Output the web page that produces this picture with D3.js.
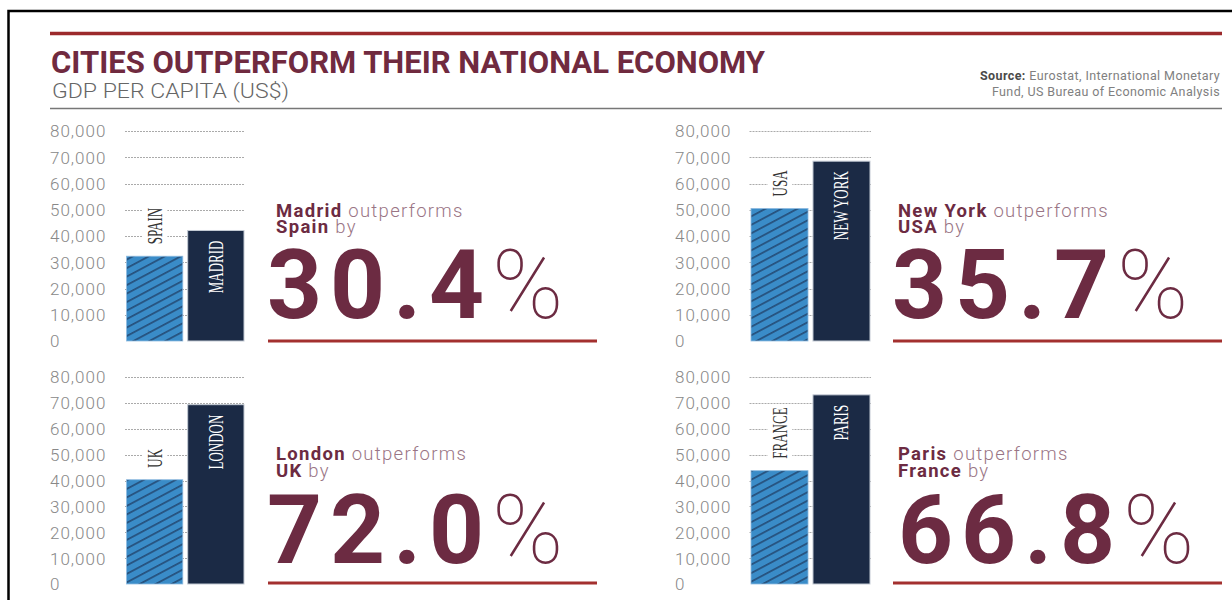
<!DOCTYPE html>
<html>
<head>
<meta charset="utf-8">
<script src="https://cdn.jsdelivr.net/npm/d3@7"></script>
<style>
  body { margin: 0; background: #fff; }
  svg { display: block; font-family: Roboto, "Liberation Sans", sans-serif; }
</style>
</head>
<body>
<svg id="chart" width="1232" height="600"></svg>
<script>
// data
var countries = ["SPAIN", "USA", "UK", "FRANCE"];
var cities = ["MADRID", "NEW YORK", "LONDON", "PARIS"];
var cityNames = ["Madrid", "New York", "London", "Paris"];
var countryNames = ["Spain", "USA", "UK", "France"];
var countryGdp = [32300, 50500, 40300, 43800];
var cityGdp = [42100, 68500, 69300, 73100];
var outperformPct = ["30.4", "35.7", "72.0", "66.8"];
var yTicks = [0, 10000, 20000, 30000, 40000, 50000, 60000, 70000, 80000];

// where each small panel sits
var panels = [
  { axisX: 50, x0: 126.5, x1: 244, yTop: 131, yBot: 341, textX: 276, numX: 267, l1: 217, l2: 233, numY: 318, lineX0: 268, lineX1: 597, lineY: 341 },
  { axisX: 675, x0: 751, x1: 870, yTop: 131, yBot: 341, textX: 898, numX: 892, l1: 217, l2: 233, numY: 318, lineX0: 893, lineX1: 1222, lineY: 341 },
  { axisX: 50, x0: 126.5, x1: 244, yTop: 377, yBot: 584, textX: 276, numX: 267, l1: 460, l2: 477, numY: 563, lineX0: 268, lineX1: 597, lineY: 583 },
  { axisX: 675, x0: 751, x1: 870, yTop: 377, yBot: 584, textX: 898, numX: 898, l1: 460, l2: 477, numY: 563, lineX0: 893, lineX1: 1222, lineY: 583 }
];

var maroon = "#6c2b42", light = "#9a7585", red = "#a3302f";

var svg = d3.select("#chart");

// hatch for the national bars
var defs = svg.append("defs");
var pat = defs.append("pattern")
  .attr("id", "hatch")
  .attr("patternUnits", "userSpaceOnUse")
  .attr("width", 12).attr("height", 7.5)
  .attr("patternTransform", "rotate(-28)");
pat.append("rect").attr("width", 12).attr("height", 7.5).attr("fill", "#3a8cc8");
pat.append("line")
  .attr("x1", 0).attr("x2", 12).attr("y1", 3.7).attr("y2", 3.7)
  .attr("stroke", "#1f3c63").attr("stroke-width", 1.3);

// frame
svg.append("rect")
  .attr("x", 8.5).attr("y", 11).attr("width", 1400).attr("height", 800)
  .attr("fill", "none").attr("stroke", "#000").attr("stroke-width", 2.5);

// header
svg.append("line").attr("x1", 50).attr("x2", 1222).attr("y1", 33.5).attr("y2", 33.5)
  .attr("stroke", "#9c2a2c").attr("stroke-width", 3.5);
svg.append("text")
  .attr("x", 51).attr("y", 73)
  .attr("font-size", 32).attr("font-weight", 700).attr("fill", "#702a3f")
  .attr("textLength", 714).attr("lengthAdjust", "spacingAndGlyphs")
  .text("CITIES OUTPERFORM THEIR NATIONAL ECONOMY");
svg.append("text")
  .attr("x", 52).attr("y", 98)
  .attr("font-size", 20).attr("font-weight", 300).attr("fill", "#666")
  .attr("textLength", 237).attr("lengthAdjust", "spacingAndGlyphs")
  .text("GDP PER CAPITA (US$)");
var src = svg.append("text").attr("text-anchor", "end").attr("font-size", 12.5)
  .attr("letter-spacing", 0.4).attr("fill", "#808080");
var s1 = src.append("tspan").attr("x", 1220).attr("y", 80);
s1.append("tspan").attr("font-weight", 700).attr("fill", "#4a4a4a").text("Source:");
s1.append("tspan").text(" Eurostat, International Monetary");
src.append("tspan").attr("x", 1220).attr("y", 96).text("Fund, US Bureau of Economic Analysis");
svg.append("line").attr("x1", 50).attr("x2", 1222).attr("y1", 108.5).attr("y2", 108.5)
  .attr("stroke", "#777").attr("stroke-width", 1.5);

panels.forEach(function (p, i) {
  var g = svg.append("g");
  var y = d3.scaleLinear().domain([0, 80000]).range([p.yBot, p.yTop]);
  var x = d3.scaleBand().domain([countries[i], cities[i]]).range([p.x0, p.x1])
    .paddingInner(0.08).paddingOuter(0);

  // axis labels, left aligned
  var ax = g.append("g")
    .attr("transform", "translate(" + p.axisX + ",0)")
    .call(d3.axisLeft(y).tickValues(yTicks).tickSize(0).tickFormat(d3.format(",")));
  ax.select(".domain").remove();
  ax.selectAll("text")
    .attr("x", 0).attr("dy", "0.35em")
    .attr("text-anchor", "start")
    .attr("font-family", "Roboto, sans-serif")
    .attr("font-size", 17).attr("font-weight", 300)
    .attr("letter-spacing", 1)
    .attr("fill", "#888");

  // dashed grid
  g.append("g").selectAll("line")
    .data(yTicks.filter(function (d) { return d > 0; }))
    .enter().append("line")
    .attr("x1", p.x0 - 1.5).attr("x2", p.x1 + 1)
    .attr("y1", function (d) { return Math.round(y(d)) + 0.5; })
    .attr("y2", function (d) { return Math.round(y(d)) + 0.5; })
    .attr("stroke", "#aaa").attr("stroke-width", 1)
    .attr("stroke-dasharray", "2,1");

  // bars
  g.append("rect")
    .attr("x", x(countries[i])).attr("width", x.bandwidth())
    .attr("y", y(countryGdp[i])).attr("height", y(0) - y(countryGdp[i]))
    .attr("fill", "url(#hatch)").attr("stroke", "#8fbbe0").attr("stroke-width", 0.8);
  g.append("rect")
    .attr("x", x(cities[i])).attr("width", x.bandwidth())
    .attr("y", y(cityGdp[i])).attr("height", y(0) - y(cityGdp[i]))
    .attr("fill", "#1b2a45").attr("stroke", "#c3cad4").attr("stroke-width", 1);

  // country name above its bar, on white
  var cx = x(countries[i]) + x.bandwidth() / 2;
  var lab = g.append("g")
    .attr("transform", "translate(" + cx + "," + (y(countryGdp[i]) - 12) + ") rotate(-90)")
    .append("g").attr("transform", "scale(0.65,1)");
  var bg = lab.append("rect").attr("fill", "#fff");
  var t = lab.append("text")
    .attr("font-family", "'Liberation Serif', serif")
    .attr("font-size", 20).attr("fill", "#333")
    .attr("dy", "0.35em")
    .text(countries[i]);
  var bb = t.node().getBBox();
  bg.attr("x", bb.x - 4).attr("y", bb.y - 1).attr("width", bb.width + 8).attr("height", bb.height + 2);

  // city name inside its bar
  var ccx = x(cities[i]) + x.bandwidth() / 2;
  g.append("g")
    .attr("transform", "translate(" + ccx + "," + (y(cityGdp[i]) + 10) + ") rotate(-90)")
    .append("text")
    .attr("transform", "scale(0.65,1)")
    .attr("font-family", "'Liberation Serif', serif")
    .attr("font-size", 20).attr("fill", "#fff")
    .attr("text-anchor", "end").attr("dy", "0.35em")
    .text(cities[i]);

  // headline text, two lines in one block
  var h = g.append("text")
    .attr("font-size", 18.5).attr("letter-spacing", 1.3).attr("fill", light);
  var h1 = h.append("tspan").attr("x", p.textX).attr("y", p.l1);
  h1.append("tspan").attr("font-weight", 700).attr("fill", maroon).text(cityNames[i]);
  h1.append("tspan").attr("font-weight", 300).text(" outperforms");
  var h2 = h.append("tspan").attr("x", p.textX).attr("y", p.l2);
  h2.append("tspan").attr("font-weight", 700).attr("fill", maroon).text(countryNames[i]);
  h2.append("tspan").attr("font-weight", 300).text(" by");

  var num = g.append("text")
    .attr("x", p.numX).attr("y", p.numY)
    .attr("font-size", 96).attr("font-weight", 700).attr("fill", maroon)
    .attr("letter-spacing", 8)
    .text(outperformPct[i]);
  var w = num.node().getComputedTextLength();
  g.append("text")
    .attr("x", p.numX + w).attr("y", p.numY)
    .attr("font-size", 96).attr("font-weight", 100).attr("fill", maroon)
    .text("%");

  g.append("line")
    .attr("x1", p.lineX0).attr("x2", p.lineX1)
    .attr("y1", p.lineY).attr("y2", p.lineY)
    .attr("stroke", red).attr("stroke-width", 3);
});
</script>
</body>
</html>
